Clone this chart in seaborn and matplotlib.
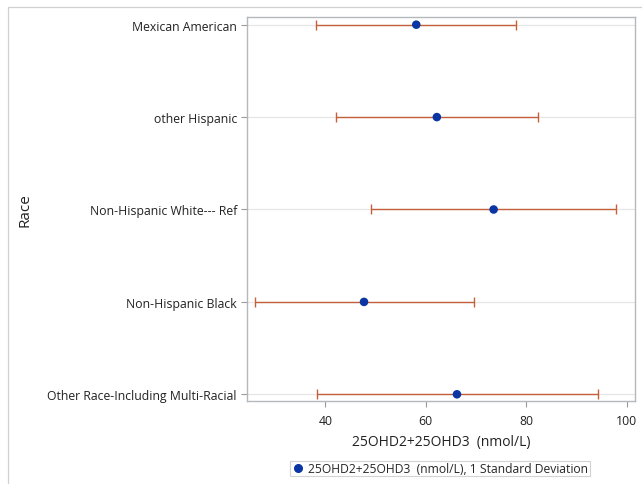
import pandas as pd
import matplotlib
matplotlib.use("Agg")
import matplotlib.pyplot as plt
import seaborn as sns
from matplotlib.lines import Line2D

# values
race = ["Mexican American", "other Hispanic", "Non-Hispanic White--- Ref",
        "Non-Hispanic Black", "Other Race-Including Multi-Racial"]
mean_vitd = [58.1, 62.2, 73.5, 47.7, 66.2]
lower_sd = [38.2, 42.2, 49.0, 26.0, 38.3]
upper_sd = [78.0, 82.3, 97.9, 69.5, 94.2]

x_ticks = [40, 60, 80, 100]
x_label = "25OHD2+25OHD3  (nmol/L)"
legend_label = "25OHD2+25OHD3  (nmol/L), 1 Standard Deviation"

df = pd.DataFrame({"Race": race, "Mean": mean_vitd,
                   "Low": lower_sd, "High": upper_sd})

sns.set_theme(style="white")
plt.rcParams["font.family"] = ["Open Sans", "DejaVu Sans"]

marker_color = "#0a35a3"
bar_color = "#c4603a"
frame_color = "#b4b8bc"

fig = plt.figure(figsize=(6.42, 4.85), dpi=100)
ax = fig.add_axes([0.3852, 0.1705, 0.6044, 0.7918])

# horizontal gridlines at each category
for i in range(len(race)):
    ax.axhline(i, color="#e6e6e6", lw=0.9, zorder=0)

ax.errorbar(df["Mean"], df["Race"],
            xerr=[df["Mean"] - df["Low"], df["High"] - df["Mean"]],
            fmt="none", ecolor=bar_color, elinewidth=1.0,
            capsize=3.8, capthick=1.0, zorder=2)
sns.scatterplot(data=df, x="Mean", y="Race", color=marker_color,
                s=38, edgecolor="none", ax=ax, zorder=3, legend=False)

ax.set_xlim(24.47, 101.7)
ax.set_ylim(4 + 7.0 / 92.4, -7.4 / 92.4)
ax.set_xticks(x_ticks)
ax.set_xticklabels([str(t) for t in x_ticks])

ax.set_xlabel(x_label, fontsize=10, color="#222222", labelpad=5)
ax.set_ylabel("Race", fontsize=11, color="#222222", labelpad=0)
ax.yaxis.set_label_coords(-0.553, 0.5)

ax.tick_params(axis="both", which="major", length=4.5, width=0.8,
               color="#9a9a9a", labelsize=8.8, labelcolor="#222222",
               bottom=True, left=True, pad=3)
ax.tick_params(axis="x", pad=4.5)

for sp in ax.spines.values():
    sp.set_color(frame_color)
    sp.set_linewidth(1.0)

# legend below the axis
handle = Line2D([], [], marker="o", linestyle="none", color=marker_color,
                markersize=5.5)
leg = fig.legend([handle], [legend_label], loc="center",
                 bbox_to_anchor=(440 / 642, 1 - 469.5 / 485),
                 fontsize=8.7, frameon=True, fancybox=False,
                 handletextpad=0.35, borderpad=0.12, handlelength=1.0,
                 borderaxespad=0)
leg.get_frame().set_edgecolor("#c8c8c8")
leg.get_frame().set_linewidth(0.8)

# outer graph border (left and top only visible)
fig.add_artist(Line2D([7.5 / 642, 7.5 / 642], [0, 1 - 7.5 / 485],
                      transform=fig.transFigure, color="#d0d0d0", lw=0.9))
fig.add_artist(Line2D([7.5 / 642, 1], [1 - 7.5 / 485, 1 - 7.5 / 485],
                      transform=fig.transFigure, color="#d0d0d0", lw=0.9))

fig.savefig("out.png", dpi=100)
